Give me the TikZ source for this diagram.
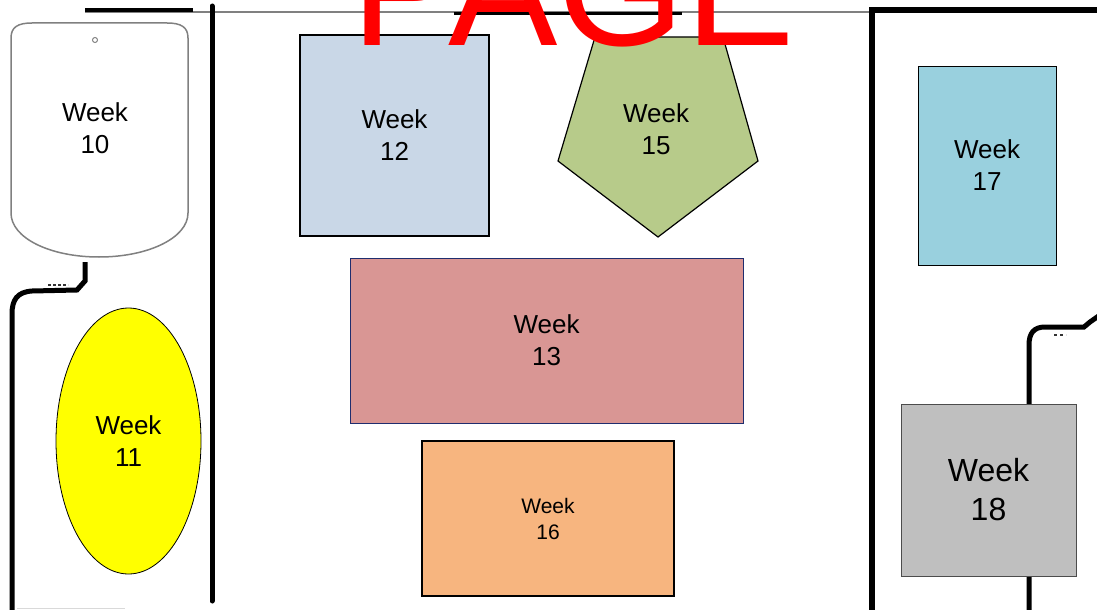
\documentclass[tikz,border=0pt]{standalone}
\usepackage{fontspec}
\setmainfont{Liberation Sans}
\usepackage{xcolor}
\usetikzlibrary{positioning, shapes.geometric}

\definecolor{bluegrey}{RGB}{201,215,231}
\definecolor{rosefill}{RGB}{217,150,148}
\definecolor{peachfill}{RGB}{247,181,127}
\definecolor{greenfill}{RGB}{183,203,138}
\definecolor{skyfill}{RGB}{153,208,222}
\definecolor{greyfill}{RGB}{191,191,191}
\definecolor{navyline}{RGB}{31,45,110}
\definecolor{brightyellow}{RGB}{255,255,0}

\tikzset{
  wall/.style={line width=5pt, line cap=round},
  pipe/.style={line width=5pt},
  weektext/.style={align=center, inner sep=0pt, font=\fontsize{26}{32}\selectfont},
  week/.style={weektext, draw=black, line width=1.2pt}
}

\begin{document}
\begin{tikzpicture}[x=1pt, y=-1pt]
\useasboundingbox (0,0) rectangle (1097,610);
\clip (0,0) rectangle (1097,610);
\fill [white] (0,0) rectangle (1097,610);

% walls
\draw [gray, line width=1.5pt] (85,12) -- (870,12);
\draw [line width=3.5pt] (85,10) -- (193,10);
\draw [line width=3pt] (454,14) -- (682,14);
\draw [wall] (212,6) -- (212,601);
\draw [line width=6pt] (872,615) -- (872,10) -- (1100,10);

% pipes
\draw [pipe] (85,262) -- (85,281) -- (77,290) -- (32,291) .. controls (17,292) and (12,300) .. (12,314) -- (12,615);
\draw [pipe] (1100,315) -- (1090,322) -- (1084,327) -- (1045,327) .. controls (1034,327) and (1029,333) .. (1029,345) -- (1029,615);
\draw [black!80, line width=1.2pt, dash pattern=on 3pt off 2pt] (48,285) -- (68,285);
\draw [black!80, line width=1.2pt, dash pattern=on 3pt off 3pt] (1054,335) -- (1066,335);
\draw [black!15, line width=1pt] (17,608) -- (125,608);

% week 10 bag
\draw [gray, line width=1.5pt, fill=white] (11,213) -- (11,38) .. controls (11,27) and (18,23) .. (32,23) -- (167,23) .. controls (181,23) and (188,27) .. (188,38) -- (188,213) .. controls (188,238) and (148,257) .. (99,257) .. controls (50,257) and (11,238) .. (11,213) -- cycle;
\draw [gray, line width=1pt] (95,40) circle (2.5pt);
\node [weektext] (week 10) at (95,128) {Week\\10};

% week 11
\node [weektext, ellipse, draw=black, line width=0.8pt, fill=brightyellow, minimum width=145pt, minimum height=266pt] (week 11) at (128.5,441) {Week\\11};

% middle room
\node [week, fill=bluegrey, minimum width=189pt, minimum height=201pt] (week 12) at (394.5,135.5) {Week\\12};
\node [week, draw=navyline, line width=0.8pt, fill=rosefill, minimum width=393pt, minimum height=165pt] (week 13) at (546.5,340.5) {Week\\13};
\node [week, fill=peachfill, minimum width=252pt, minimum height=155pt, font=\fontsize{21}{26}\selectfont] (week 16) at (548,518.5) {Week\\16};

\filldraw [fill=greenfill, line width=1.2pt] (595,37) -- (723,37) -- (758,161) -- (658,237) -- (558,161) -- cycle;
\node [weektext] (week 15) at (656,129) {Week\\15};

% right room
\node [week, line width=0.8pt, fill=skyfill, minimum width=138pt, minimum height=199pt] (week 17) at (987,165.5) {Week\\17};
\node [week, draw=black!70, line width=0.8pt, fill=greyfill, minimum width=175pt, minimum height=172pt, font=\fontsize{32}{39}\selectfont] (week 18) at (988.5,490) {Week\\18};

\node [anchor=base west, inner sep=0pt, text=red, font=\fontsize{164}{164}\selectfont] (page) at (351,46) {PAGE};
\end{tikzpicture}
\end{document}
